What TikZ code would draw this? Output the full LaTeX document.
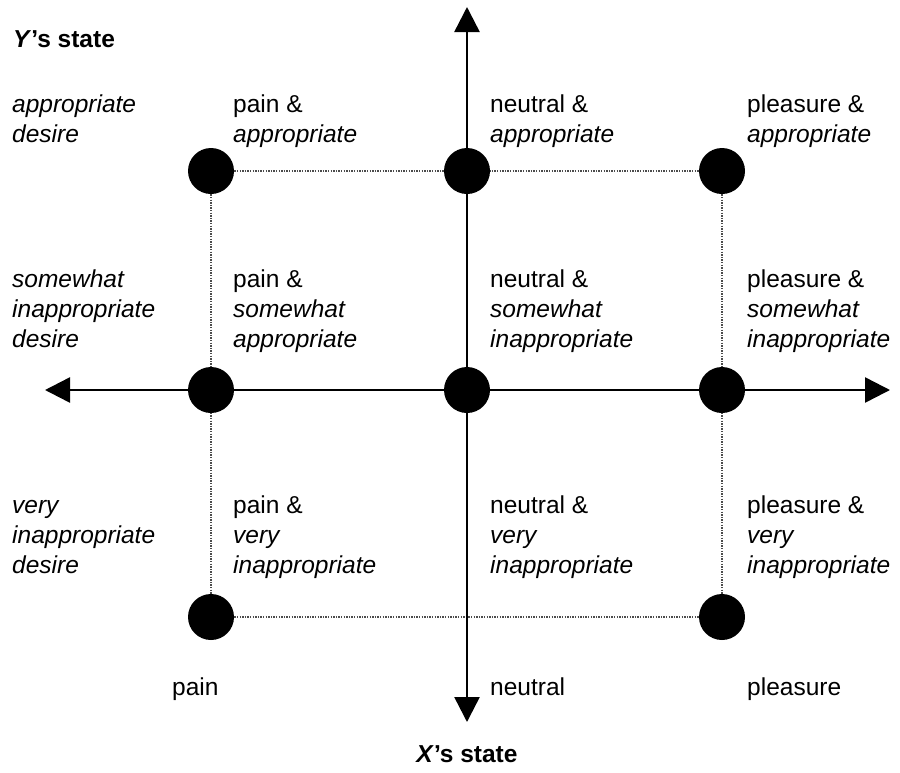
\documentclass[tikz,border=0pt]{standalone}
\usepackage{fontspec}
\setmainfont{Liberation Sans}
\usetikzlibrary{arrows.meta}
\tikzset{
  dot/.style={circle,fill=black,inner sep=0pt,minimum size=46pt},
  lbl/.style={anchor=base west,align=left,inner sep=0pt,
    font=\fontsize{24.5}{30}\selectfont},
  axis/.style={line width=2.5pt,
    {Triangle[length=25pt,width=25pt]}-{Triangle[length=25pt,width=25pt]}},
  gridline/.style={black!70,line width=1.3pt,dash pattern=on 1.3pt off 1.3pt}
}
\begin{document}
\begin{tikzpicture}[x=1pt,y=-1pt]
  \useasboundingbox (0,0) rectangle (900,772);
  % axis ends
  \coordinate (top) at (467,7);
  \coordinate (bot) at (467,722);
  \coordinate (left) at (45,390);
  \coordinate (right) at (890,390);
  % grid points
  \path
    (211,171) coordinate (p1)
    (467,171) coordinate (p2)
    (722,171) coordinate (p3)
    (211,390) coordinate (p4)
    (467,390) coordinate (p5)
    (722,390) coordinate (p6)
    (211,617) coordinate (p7)
    (722,617) coordinate (p8);
  \begin{scope}[gridline]
    \draw (p1) to (p3);
    \draw (p1) to (p7);
    \draw (p3) to (p8);
    \draw (p7) to (p8);
  \end{scope}
  \draw[axis] (left) to (right);
  \draw[axis] (bot) to (top);
  \foreach \i in {1,...,8}
    \node[dot] (d\i) at (p\i) {};
  % axis titles
  \node[lbl] (ytitle) at (13,47) {\textbf{\textit{Y}’s state}};
  \node[lbl,anchor=base] (xtitle) at (467,762) {\textbf{\textit{X}’s state}};
  % Y's states (base = last line)
  \node[lbl] (y1) at (12,142) {\textit{appropriate}\\\textit{desire}};
  \node[lbl] (y2) at (12,347) {\textit{somewhat}\\\textit{inappropriate}\\\textit{desire}};
  \node[lbl] (y3) at (12,573) {\textit{very}\\\textit{inappropriate}\\\textit{desire}};
  % X's states
  \node[lbl] (x1) at (172,695) {pain};
  \node[lbl] (x2) at (490,695) {neutral};
  \node[lbl] (x3) at (747,695) {pleasure};
  % cells
  \node[lbl] (c11) at (233,142) {pain \&\\\textit{appropriate}};
  \node[lbl] (c12) at (490,142) {neutral \&\\\textit{appropriate}};
  \node[lbl] (c13) at (747,142) {pleasure \&\\\textit{appropriate}};
  \node[lbl] (c21) at (233,347) {pain \&\\\textit{somewhat}\\\textit{appropriate}};
  \node[lbl] (c22) at (490,347) {neutral \&\\\textit{somewhat}\\\textit{inappropriate}};
  \node[lbl] (c23) at (747,347) {pleasure \&\\\textit{somewhat}\\\textit{inappropriate}};
  \node[lbl] (c31) at (233,573) {pain \&\\\textit{very}\\\textit{inappropriate}};
  \node[lbl] (c32) at (490,573) {neutral \&\\\textit{very}\\\textit{inappropriate}};
  \node[lbl] (c33) at (747,573) {pleasure \&\\\textit{very}\\\textit{inappropriate}};
\end{tikzpicture}
\end{document}
